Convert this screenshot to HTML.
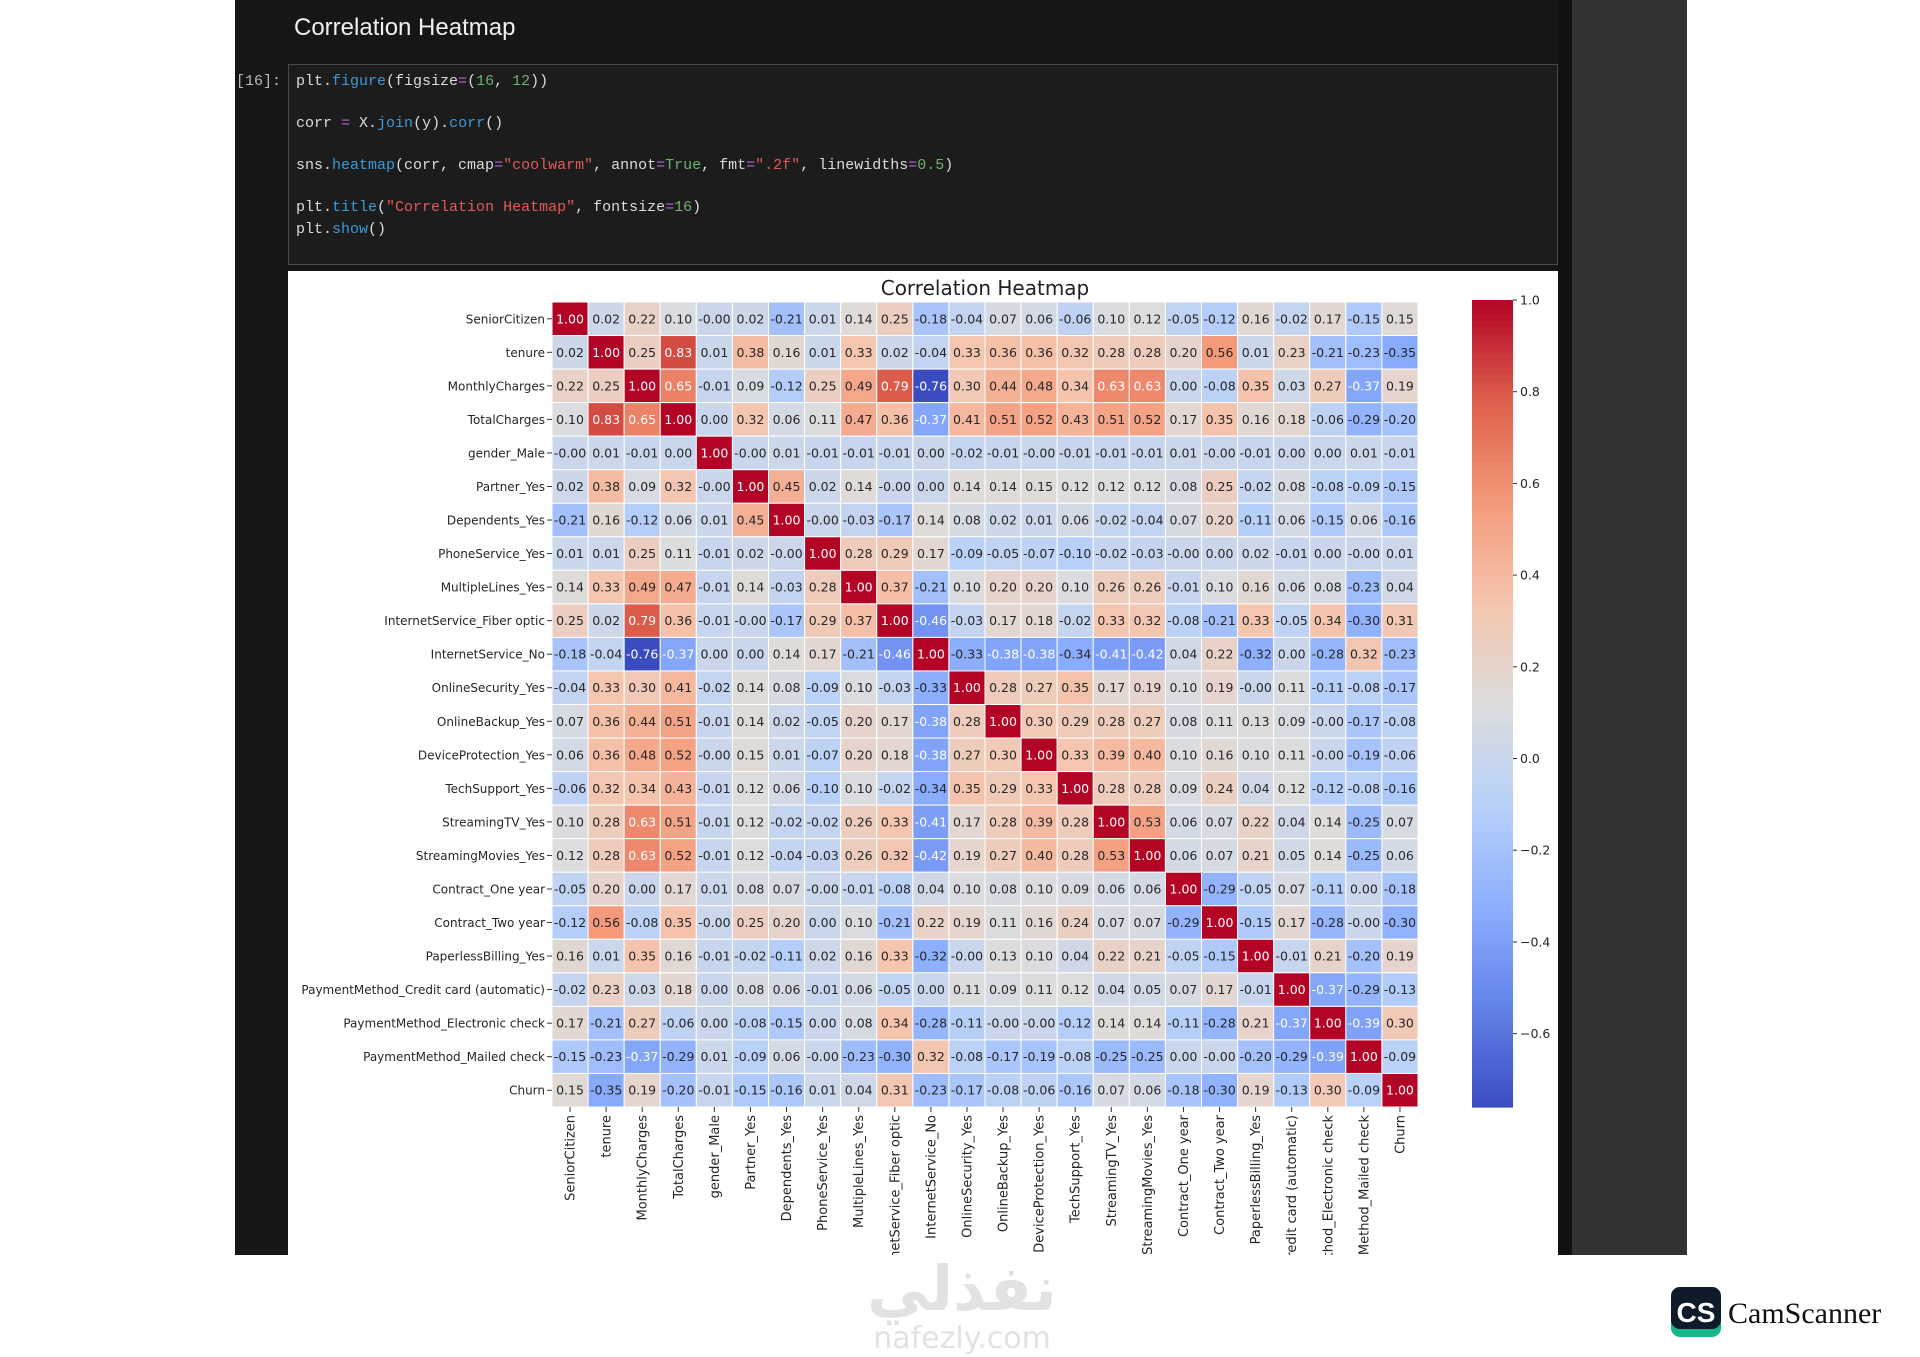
<!DOCTYPE html>
<html><head><meta charset="utf-8"><style>
html,body{margin:0;padding:0;background:#fff;}
svg{display:block;}
.mono{font-family:"Liberation Mono",monospace;font-size:15px;}
</style></head><body>
<svg id="page" width="1920" height="1357" viewBox="0 0 1920 1357" xmlns="http://www.w3.org/2000/svg">
<defs>
<clipPath id="panelClip"><rect x="288" y="271" width="1270" height="984"/></clipPath>
</defs>
<rect x="235" y="0" width="1335" height="1255" fill="#161616"/>
<rect x="1570" y="0" width="117" height="1255" fill="#333333"/>
<rect x="1558" y="0" width="14" height="1255" fill="#111"/>
<text x="294" y="35" fill="#f0f0f0" font-family="Liberation Sans, sans-serif" font-size="24">Correlation Heatmap</text>
<text x="236" y="85" fill="#bbb" class="mono" font-size="14">[16]:</text>
<rect x="288.5" y="64.5" width="1269" height="200" fill="#1c1c1c" stroke="#4a4a4a"/>
<g class="mono" fill="#dcdcdc">
<text x="296" y="85">plt.<tspan fill="#3d9ad8">figure</tspan>(figsize<tspan fill="#b36ad8">=</tspan>(<tspan fill="#6db36d">16</tspan>, <tspan fill="#6db36d">12</tspan>))</text>
<text x="296" y="127">corr <tspan fill="#b36ad8">=</tspan> X.<tspan fill="#3d9ad8">join</tspan>(y).<tspan fill="#3d9ad8">corr</tspan>()</text>
<text x="296" y="169">sns.<tspan fill="#3d9ad8">heatmap</tspan>(corr, cmap<tspan fill="#b36ad8">=</tspan><tspan fill="#e05a5a">"coolwarm"</tspan>, annot<tspan fill="#b36ad8">=</tspan><tspan fill="#6db36d">True</tspan>, fmt<tspan fill="#b36ad8">=</tspan><tspan fill="#e05a5a">".2f"</tspan>, linewidths<tspan fill="#b36ad8">=</tspan><tspan fill="#6db36d">0.5</tspan>)</text>
<text x="296" y="211">plt.<tspan fill="#3d9ad8">title</tspan>(<tspan fill="#e05a5a">"Correlation Heatmap"</tspan>, fontsize<tspan fill="#b36ad8">=</tspan><tspan fill="#6db36d">16</tspan>)</text>
<text x="296" y="233">plt.<tspan fill="#3d9ad8">show</tspan>()</text>
</g>
<rect x="288" y="271" width="1270" height="984" fill="#ffffff"/>
<text x="985" y="295" text-anchor="middle" fill="#222" font-family="DejaVu Sans, sans-serif" font-size="20">Correlation Heatmap</text>
<g id="heat" clip-path="url(#panelClip)"></g>
<g id="cbar"></g>
<g font-family="DejaVu Sans, sans-serif" fill="#e2e2e2" text-anchor="middle">
<text x="962" y="1310" font-size="62" font-weight="bold">نفذلي</text>
<text x="962" y="1348" font-size="30">nafezly.com</text>
</g>
<g>
<rect x="1671" y="1287" width="50" height="50" rx="9" fill="#16b58a"/>
<rect x="1671" y="1287" width="50" height="42" rx="9" fill="#0f1a2a"/>
<text x="1696" y="1322" text-anchor="middle" fill="#fff" font-family="Liberation Sans, sans-serif" font-weight="bold" font-size="28">CS</text>
<text x="1728" y="1323" fill="#111" font-family="Liberation Serif, serif" font-size="30">CamScanner</text>
</g>
</svg>
<script>
const labels = ["SeniorCitizen","tenure","MonthlyCharges","TotalCharges","gender_Male","Partner_Yes","Dependents_Yes","PhoneService_Yes","MultipleLines_Yes","InternetService_Fiber optic","InternetService_No","OnlineSecurity_Yes","OnlineBackup_Yes","DeviceProtection_Yes","TechSupport_Yes","StreamingTV_Yes","StreamingMovies_Yes","Contract_One year","Contract_Two year","PaperlessBilling_Yes","PaymentMethod_Credit card (automatic)","PaymentMethod_Electronic check","PaymentMethod_Mailed check","Churn"];
const corr = [
[1.00,0.02,0.22,0.10,-0.00,0.02,-0.21,0.01,0.14,0.25,-0.18,-0.04,0.07,0.06,-0.06,0.10,0.12,-0.05,-0.12,0.16,-0.02,0.17,-0.15,0.15],
[0.02,1.00,0.25,0.83,0.01,0.38,0.16,0.01,0.33,0.02,-0.04,0.33,0.36,0.36,0.32,0.28,0.28,0.20,0.56,0.01,0.23,-0.21,-0.23,-0.35],
[0.22,0.25,1.00,0.65,-0.01,0.09,-0.12,0.25,0.49,0.79,-0.76,0.30,0.44,0.48,0.34,0.63,0.63,0.00,-0.08,0.35,0.03,0.27,-0.37,0.19],
[0.10,0.83,0.65,1.00,0.00,0.32,0.06,0.11,0.47,0.36,-0.37,0.41,0.51,0.52,0.43,0.51,0.52,0.17,0.35,0.16,0.18,-0.06,-0.29,-0.20],
[-0.00,0.01,-0.01,0.00,1.00,-0.00,0.01,-0.01,-0.01,-0.01,0.00,-0.02,-0.01,-0.00,-0.01,-0.01,-0.01,0.01,-0.00,-0.01,0.00,0.00,0.01,-0.01],
[0.02,0.38,0.09,0.32,-0.00,1.00,0.45,0.02,0.14,-0.00,0.00,0.14,0.14,0.15,0.12,0.12,0.12,0.08,0.25,-0.02,0.08,-0.08,-0.09,-0.15],
[-0.21,0.16,-0.12,0.06,0.01,0.45,1.00,-0.00,-0.03,-0.17,0.14,0.08,0.02,0.01,0.06,-0.02,-0.04,0.07,0.20,-0.11,0.06,-0.15,0.06,-0.16],
[0.01,0.01,0.25,0.11,-0.01,0.02,-0.00,1.00,0.28,0.29,0.17,-0.09,-0.05,-0.07,-0.10,-0.02,-0.03,-0.00,0.00,0.02,-0.01,0.00,-0.00,0.01],
[0.14,0.33,0.49,0.47,-0.01,0.14,-0.03,0.28,1.00,0.37,-0.21,0.10,0.20,0.20,0.10,0.26,0.26,-0.01,0.10,0.16,0.06,0.08,-0.23,0.04],
[0.25,0.02,0.79,0.36,-0.01,-0.00,-0.17,0.29,0.37,1.00,-0.46,-0.03,0.17,0.18,-0.02,0.33,0.32,-0.08,-0.21,0.33,-0.05,0.34,-0.30,0.31],
[-0.18,-0.04,-0.76,-0.37,0.00,0.00,0.14,0.17,-0.21,-0.46,1.00,-0.33,-0.38,-0.38,-0.34,-0.41,-0.42,0.04,0.22,-0.32,0.00,-0.28,0.32,-0.23],
[-0.04,0.33,0.30,0.41,-0.02,0.14,0.08,-0.09,0.10,-0.03,-0.33,1.00,0.28,0.27,0.35,0.17,0.19,0.10,0.19,-0.00,0.11,-0.11,-0.08,-0.17],
[0.07,0.36,0.44,0.51,-0.01,0.14,0.02,-0.05,0.20,0.17,-0.38,0.28,1.00,0.30,0.29,0.28,0.27,0.08,0.11,0.13,0.09,-0.00,-0.17,-0.08],
[0.06,0.36,0.48,0.52,-0.00,0.15,0.01,-0.07,0.20,0.18,-0.38,0.27,0.30,1.00,0.33,0.39,0.40,0.10,0.16,0.10,0.11,-0.00,-0.19,-0.06],
[-0.06,0.32,0.34,0.43,-0.01,0.12,0.06,-0.10,0.10,-0.02,-0.34,0.35,0.29,0.33,1.00,0.28,0.28,0.09,0.24,0.04,0.12,-0.12,-0.08,-0.16],
[0.10,0.28,0.63,0.51,-0.01,0.12,-0.02,-0.02,0.26,0.33,-0.41,0.17,0.28,0.39,0.28,1.00,0.53,0.06,0.07,0.22,0.04,0.14,-0.25,0.07],
[0.12,0.28,0.63,0.52,-0.01,0.12,-0.04,-0.03,0.26,0.32,-0.42,0.19,0.27,0.40,0.28,0.53,1.00,0.06,0.07,0.21,0.05,0.14,-0.25,0.06],
[-0.05,0.20,0.00,0.17,0.01,0.08,0.07,-0.00,-0.01,-0.08,0.04,0.10,0.08,0.10,0.09,0.06,0.06,1.00,-0.29,-0.05,0.07,-0.11,0.00,-0.18],
[-0.12,0.56,-0.08,0.35,-0.00,0.25,0.20,0.00,0.10,-0.21,0.22,0.19,0.11,0.16,0.24,0.07,0.07,-0.29,1.00,-0.15,0.17,-0.28,-0.00,-0.30],
[0.16,0.01,0.35,0.16,-0.01,-0.02,-0.11,0.02,0.16,0.33,-0.32,-0.00,0.13,0.10,0.04,0.22,0.21,-0.05,-0.15,1.00,-0.01,0.21,-0.20,0.19],
[-0.02,0.23,0.03,0.18,0.00,0.08,0.06,-0.01,0.06,-0.05,0.00,0.11,0.09,0.11,0.12,0.04,0.05,0.07,0.17,-0.01,1.00,-0.37,-0.29,-0.13],
[0.17,-0.21,0.27,-0.06,0.00,-0.08,-0.15,0.00,0.08,0.34,-0.28,-0.11,-0.00,-0.00,-0.12,0.14,0.14,-0.11,-0.28,0.21,-0.37,1.00,-0.39,0.30],
[-0.15,-0.23,-0.37,-0.29,0.01,-0.09,0.06,-0.00,-0.23,-0.30,0.32,-0.08,-0.17,-0.19,-0.08,-0.25,-0.25,0.00,-0.00,-0.20,-0.29,-0.39,1.00,-0.09],
[0.15,-0.35,0.19,-0.20,-0.01,-0.15,-0.16,0.01,0.04,0.31,-0.23,-0.17,-0.08,-0.06,-0.16,0.07,0.06,-0.18,-0.30,0.19,-0.13,0.30,-0.09,1.00]
];
const cbTicks = [1.0,0.8,0.6,0.4,0.2,0.0,-0.2,-0.4,-0.6];
const cbTickLabels = ["1.0","0.8","0.6","0.4","0.2","0.0","\u22120.2","\u22120.4","\u22120.6"];

const NS="http://www.w3.org/2000/svg";
const X0=552,X1=1418,Y0=302,Y1=1107;
const n=labels.length, cw=(X1-X0)/n, ch=(Y1-Y0)/n;
let vmin=Infinity, vmax=-Infinity;
corr.forEach(r=>r.forEach(v=>{if(v<vmin)vmin=v;if(v>vmax)vmax=v;}));
const stops=[[59,76,192],[98,130,234],[141,176,254],[184,208,249],[221,221,221],[245,196,173],[244,154,123],[222,96,77],[180,4,38]];
function cmap(v){let t=(v-vmin)/(vmax-vmin);t=Math.max(0,Math.min(1,t));const p=t*8,i=Math.min(7,Math.floor(p)),f=p-i;const a=stops[i],b=stops[i+1];return [0,1,2].map(k=>Math.round(a[k]+(b[k]-a[k])*f));}
function lum(c){const l=c.map(x=>{x/=255;return x<=0.03928?x/12.92:Math.pow((x+0.055)/1.055,2.4);});return 0.2126*l[0]+0.7152*l[1]+0.0722*l[2];}
function fmt(v){const s=Math.abs(v).toFixed(2);return (v<0||Object.is(v,-0))?'-'+s:s;}
const xS=j=>X0+j*cw, yS=i=>Y0+i*ch;
function mk(tag,attrs,parent){const e=document.createElementNS(NS,tag);for(const k in attrs)e.setAttribute(k,attrs[k]);parent.appendChild(e);return e;}
const heat=document.getElementById('heat');
const font="DejaVu Sans, sans-serif";
for(let i=0;i<n;i++){
  for(let j=0;j<n;j++){
    const v=corr[i][j], c=cmap(v);
    const r=mk('rect',{x:xS(j),y:yS(i),width:cw,height:ch,fill:`rgb(${c})`,stroke:'#fff','stroke-width':1},heat);
    
    
    const t=mk('text',{x:xS(j)+cw/2,y:yS(i)+ch/2+4.5,'text-anchor':'middle','font-family':font,'font-size':12.5,fill:lum(c)<0.408?'#fff':'#262626'},heat);
    t.textContent=fmt(v);
    
    
  }
}
for(let i=0;i<n;i++){
  const y=yS(i)+ch/2;
  mk('line',{x1:X0-5,x2:X0,y1:y,y2:y,stroke:'#333','stroke-width':1},heat);
  const t=mk('text',{x:X0-7,y:y+4.5,'text-anchor':'end','font-family':font,'font-size':12,fill:'#262626'},heat);
  t.textContent=labels[i];
  
  
}
for(let j=0;j<n;j++){
  const x=xS(j)+cw/2;
  mk('line',{x1:x,x2:x,y1:Y1,y2:Y1+5,stroke:'#333','stroke-width':1},heat);
  const t=mk('text',{transform:`translate(${x+4.5},${Y1+8}) rotate(-90)`,'text-anchor':'end','font-family':font,'font-size':13,fill:'#262626'},heat);
  t.textContent=labels[j];
  
  
}
const cb=document.getElementById('cbar');
const CX=1472,CW=41,CY0=300,CY1=1107;
const cbY=v=>CY1-(v-vmin)/(vmax-vmin)*(CY1-CY0);
const steps=120;
for(let s=0;s<steps;s++){
  const v0=vmin+(vmax-vmin)*s/steps, v1=vmin+(vmax-vmin)*(s+1)/steps;
  const c=cmap((v0+v1)/2);
  mk('rect',{x:CX,y:cbY(v1),width:CW,height:cbY(v0)-cbY(v1)+0.6,fill:`rgb(${c})`},cb);
}
cbTicks.forEach((v,k)=>{
  const y=cbY(v);
  mk('line',{x1:CX+CW,x2:CX+CW+4,y1:y,y2:y,stroke:'#333'},cb);
  const t=mk('text',{x:CX+CW+7,y:y+4.5,'font-family':font,'font-size':12.5,fill:'#262626'},cb);
  t.textContent=cbTickLabels[k];
  
  
});
</script>
</body></html>
